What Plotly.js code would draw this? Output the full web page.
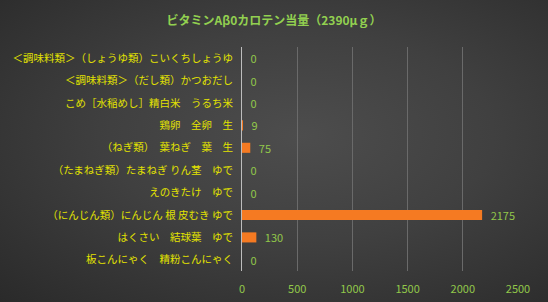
<!DOCTYPE html>
<html>
<head>
<meta charset="utf-8">
<script src="https://cdn.plot.ly/plotly-3.0.1.min.js"></script>
<style>
html,body{margin:0;padding:0;}
#chart{width:548px;height:302px;background:radial-gradient(ellipse at 55% 45%, #4d4d4d 0%, #404040 45%, #2a2a2a 100%);}
</style>
</head>
<body>
<div id="chart"></div>
<script>
var categories = [
  "＜調味料類＞（しょうゆ類）こいくちしょうゆ",
  "＜調味料類＞（だし類）かつおだし",
  "こめ［水稲めし］精白米　うるち米",
  "鶏卵　全卵　生",
  "（ねぎ類）　葉ねぎ　葉　生",
  "（たまねぎ類）たまねぎ りん茎　ゆで",
  "えのきたけ　ゆで",
  "（にんじん類）にんじん 根 皮むき ゆで",
  "はくさい　結球葉　ゆで",
  "板こんにゃく　精粉こんにゃく"
];
var values = [0, 0, 0, 9, 75, 0, 0, 2175, 130, 0];
var titleText = "ビタミンAβ0カロテン当量（2390μｇ）";
var xTicks = [0, 500, 1000, 1500, 2000, 2500];

var jp = '"Noto Sans CJK JP", "Noto Sans", sans-serif';
var trace = {
  type: 'bar',
  orientation: 'h',
  y: categories,
  x: values,
  text: values.map(function(v){ return '\u2002' + v; }),
  textposition: 'outside',
  constraintext: 'none',
  cliponaxis: false,
  textfont: {color: '#92c84a', size: 11, family: jp},
  marker: {color: '#f57a22', line: {width: 0}},
  hoverinfo: 'none'
};
var layout = {
  width: 548, height: 302,
  paper_bgcolor: 'rgba(0,0,0,0)',
  plot_bgcolor: 'rgba(0,0,0,0)',
  margin: {l: 242, r: 30, t: 47, b: 31},
  bargap: 0.55,
  showlegend: false,
  title: {text: titleText, x: 0.5, xanchor: 'center', y: 0.93, yanchor: 'middle',
          font: {color: '#92d050', size: 12, family: jp, weight: 'bold'}},
  xaxis: {range: [0, 2500], tickvals: xTicks, ticktext: xTicks.map(String),
          showgrid: true, gridcolor: '#6a6a6a', gridwidth: 1, zeroline: false,
          showline: false, ticks: '', ticklabelstandoff: 10,
          tickfont: {color: '#92c84a', size: 11, family: jp}},
  yaxis: {autorange: 'reversed', showgrid: false, zeroline: false, showline: true,
          linecolor: '#bdbdbd', linewidth: 1, ticks: '', ticklabelstandoff: 6,
          tickfont: {color: '#e2e200', size: 10.5, family: jp}}
};
Plotly.newPlot('chart', [trace], layout, {displayModeBar: false, staticPlot: true});
</script>
</body>
</html>
